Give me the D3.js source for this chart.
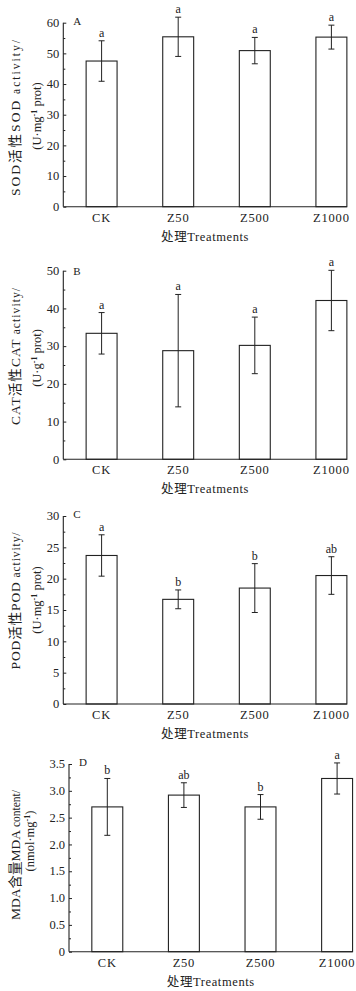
<!DOCTYPE html>
<html>
<head>
<meta charset="utf-8">
<script src="https://cdn.jsdelivr.net/npm/d3@7"></script>
<style>
  html, body { margin: 0; padding: 0; background: #fff; }
  svg text { font-family: "Liberation Serif", "DejaVu Serif", "Noto Sans CJK SC", serif; fill: #222; }
</style>
</head>
<body>
<svg id="chart" width="356" height="991" font-family="Liberation Serif, DejaVu Serif, Noto Sans CJK SC, serif"></svg>
<script>
// ---- data ----
const categories = ["CK", "Z50", "Z500", "Z1000"];

const sodMean = [47.5, 55.4, 50.9, 55.3];
const sodErr  = [6.6, 6.4, 4.3, 3.9];
const sodSig  = ["a", "a", "a", "a"];
const sodTicks = [0, 10, 20, 30, 40, 50, 60];

const catMean = [33.4, 28.8, 30.2, 42.1];
const catErr  = [5.5, 14.9, 7.5, 8.0];
const catSig  = ["a", "a", "a", "a"];
const catTicks = [0, 10, 20, 30, 40, 50];

const podMean = [23.7, 16.7, 18.5, 20.5];
const podErr  = [3.3, 1.5, 3.9, 3.0];
const podSig  = ["a", "b", "b", "ab"];
const podTicks = [0, 5, 10, 15, 20, 25, 30];

const mdaMean = [2.70, 2.92, 2.70, 3.23];
const mdaErr  = [0.53, 0.23, 0.23, 0.29];
const mdaSig  = ["b", "ab", "b", "a"];
const mdaTicks = [0, 0.5, 1.0, 1.5, 2.0, 2.5, 3.0, 3.5];

const xTitle = "处理Treatments";

// ---- panel layout ----
const panels = [
  { letter: "A", mean: sodMean, err: sodErr, sig: sodSig, ticks: sodTicks, fmt: d3.format("d"),
    label1a: "SOD活性SOD", label1b: "\u00a0activity/", label2a: "(U·mg", label2sup: "-1", label2b: "\u00a0prot)",
    x0: 63.3, top: 22.7, bottom: 206.7, letterDy: 2, l1len: 156, l1c: 118, l2c: 116, l1x: 20, l2x: 41 },
  { letter: "B", mean: catMean, err: catErr, sig: catSig, ticks: catTicks, fmt: d3.format("d"),
    label1a: "CAT活性CAT", label1b: "\u00a0activity/", label2a: "(U·g", label2sup: "-1", label2b: "\u00a0prot)",
    x0: 63.3, top: 270.7, bottom: 459.3, letterDy: 4, l1len: 137, l1c: 356.5, l2c: 358, l1x: 20, l2x: 41 },
  { letter: "C", mean: podMean, err: podErr, sig: podSig, ticks: podTicks, fmt: d3.format("d"),
    label1a: "POD活性POD", label1b: "\u00a0activity/", label2a: "(U·mg", label2sup: "-1", label2b: "\u00a0prot)",
    x0: 63.3, top: 516, bottom: 704, letterDy: 1.5, l1len: 137, l1c: 601, l2c: 600, l1x: 20, l2x: 41 },
  { letter: "D", mean: mdaMean, err: mdaErr, sig: mdaSig, ticks: mdaTicks, fmt: d => d === 0 ? "0" : d3.format(".1f")(d),
    label1a: "MDA含量MDA", label1b: "\u00a0content/", label2a: "(nmol·mg", label2sup: "-1", label2b: ")",
    x0: 69, top: 764, bottom: 951.7, letterDy: 2, l1len: 130, l1c: 855, l2c: 841, l1x: 19.5, l2x: 34 }
];

const svg = d3.select("#chart");
const step = 76.6;

panels.forEach(p => {
  const g = svg.append("g");
  const maxT = p.ticks[p.ticks.length - 1];
  const y = d3.scaleLinear().domain([0, maxT]).range([p.bottom, p.top]);
  const x = d3.scaleBand().domain(categories)
    .range([p.x0, p.x0 + step * categories.length])
    .paddingInner(0.596).paddingOuter(0.298);
  const bw = x.bandwidth();
  const xEnd = x(categories[categories.length - 1]) + bw;

  // bars
  g.selectAll("rect.bar").data(categories).join("rect")
    .attr("x", d => x(d))
    .attr("y", (d, i) => y(p.mean[i]))
    .attr("width", bw)
    .attr("height", (d, i) => y(0) - y(p.mean[i]))
    .attr("fill", "#fff").attr("stroke", "#222").attr("stroke-width", 1.1);

  // error bars
  const eb = g.selectAll("g.eb").data(categories).join("g");
  eb.append("line")
    .attr("x1", d => x(d) + bw / 2).attr("x2", d => x(d) + bw / 2)
    .attr("y1", (d, i) => y(p.mean[i] + p.err[i]))
    .attr("y2", (d, i) => y(p.mean[i] - p.err[i]))
    .attr("stroke", "#222").attr("stroke-width", 1);
  [1, -1].forEach(s => {
    eb.append("line")
      .attr("x1", d => x(d) + bw / 2 - 3).attr("x2", d => x(d) + bw / 2 + 3)
      .attr("y1", (d, i) => y(p.mean[i] + s * p.err[i]))
      .attr("y2", (d, i) => y(p.mean[i] + s * p.err[i]))
      .attr("stroke", "#222").attr("stroke-width", 1);
  });

  // significance letters
  g.selectAll("text.sig").data(categories).join("text")
    .attr("x", d => x(d) + bw / 2)
    .attr("y", (d, i) => y(p.mean[i] + p.err[i]) - 4)
    .attr("text-anchor", "middle")
    .attr("font-size", 12)
    .text((d, i) => p.sig[i]);

  // y axis
  const yAxis = d3.axisRight(y).tickValues(p.ticks).tickSize(3).tickFormat("");
  const ya = g.append("g").attr("transform", `translate(${p.x0},0)`).call(yAxis);
  ya.select(".domain").remove();
  ya.selectAll(".tick line").attr("stroke", "#222");
  const minor = d3.pairs(p.ticks).map(([a, b]) => (a + b) / 2);
  const yMinor = d3.axisRight(y).tickValues(minor).tickSize(2).tickFormat("");
  const ym = g.append("g").attr("transform", `translate(${p.x0},0)`).call(yMinor);
  ym.select(".domain").remove();
  ym.selectAll(".tick line").attr("stroke", "#222");
  g.append("line").attr("x1", p.x0).attr("x2", p.x0).attr("y1", y(0)).attr("y2", y(maxT))
    .attr("stroke", "#222").attr("stroke-width", 1.1);
  g.selectAll("text.ytl").data(p.ticks).join("text")
    .attr("x", p.x0 - 4).attr("y", d => y(d) + 4.2)
    .attr("text-anchor", "end").attr("font-size", 12.5)
    .text(d => p.fmt(d));

  // x axis
  g.append("line").attr("x1", p.x0).attr("x2", xEnd).attr("y1", y(0)).attr("y2", y(0))
    .attr("stroke", "#222").attr("stroke-width", 1.1);
  g.selectAll("text.xtl").data(categories).join("text")
    .attr("x", d => x(d) + bw / 2).attr("y", y(0) + 15)
    .attr("text-anchor", "middle").attr("font-size", 12.5).attr("letter-spacing", 0.8)
    .text(d => d);
  g.append("text")
    .attr("x", (p.x0 + xEnd) / 2).attr("y", y(0) + 34)
    .attr("text-anchor", "middle").attr("font-size", 12.5).attr("letter-spacing", 0.6)
    .text(xTitle);

  // panel letter
  g.append("text").attr("x", p.x0 + 10).attr("y", p.top + p.letterDy)
    .attr("font-size", 11).text(p.letter);

  // y label
  const t1 = g.append("text")
    .attr("transform", `translate(${p.l1x},${p.l1c}) rotate(-90)`)
    .attr("text-anchor", "middle")
    .attr("textLength", p.l1len).attr("lengthAdjust", "spacing")
    .attr("font-size", 13.5);
  t1.append("tspan").text(p.label1a);
  t1.append("tspan").attr("font-size", 11.5).text(p.label1b);

  const t2 = g.append("text")
    .attr("transform", `translate(${p.l2x},${p.l2c}) rotate(-90)`)
    .attr("text-anchor", "middle").attr("font-size", 12.5);
  t2.append("tspan").text(p.label2a);
  t2.append("tspan").attr("font-size", 8).attr("font-weight", "bold").attr("dy", -4.5).text(p.label2sup);
  t2.append("tspan").attr("dy", 4.5).text(p.label2b);
});
</script>
</body>
</html>
